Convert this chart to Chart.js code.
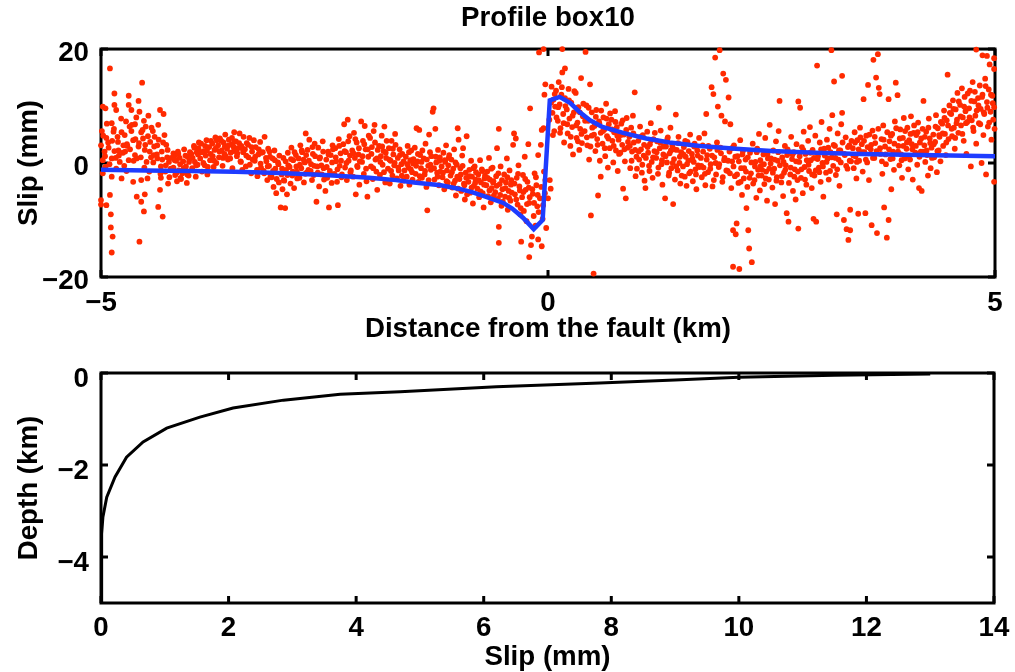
<!DOCTYPE html>
<html>
<head>
<meta charset="utf-8">
<title>Profile box10</title>
<script src="https://cdn.jsdelivr.net/npm/chart.js@4.4.0/dist/chart.umd.min.js"></script>
<style>
  html, body { margin: 0; padding: 0; background: #fff; overflow: hidden; }
  #wrap { position: relative; width: 1015px; height: 672px; overflow: hidden; }
  canvas { position: absolute; left: 0; }
  #profileChart { top: 0; }
  #depthChart { top: 340px; }
</style>
</head>
<body>
<div id="wrap">
  <canvas id="profileChart" width="1040" height="350"></canvas>
  <canvas id="depthChart" width="1040" height="332"></canvas>
</div>
<script>
// tick labels
const topXTicks = [-5, 0, 5];
const topYTicks = [-20, 0, 20];
const bottomXTicks = [0, 2, 4, 6, 8, 10, 12, 14];
const bottomYTicks = [-4, -2, 0];

// model curve (blue): distance from fault (km) / slip (mm)
const modelDist = [-5, -4.5, -4, -3.5, -3, -2.5, -2, -1.7, -1.5, -1.2, -1.0, -0.85, -0.7, -0.5, -0.4, -0.28, -0.16, -0.06,
  0.02, 0.13, 0.25, 0.35, 0.47, 0.6, 0.84, 1.1, 1.36, 1.7, 2.1, 2.5, 3.0, 3.5, 4.0, 4.5, 5.0];
const modelSlip = [-1.2, -1.3, -1.4, -1.55, -1.75, -2.1, -2.6, -3.0, -3.4, -3.9, -4.5, -5.1, -5.9, -7.0, -8.0, -9.6, -11.6, -10.0,
  11.0, 11.6, 10.5, 9.0, 7.5, 6.4, 5.3, 4.3, 3.6, 3.0, 2.5, 2.1, 1.8, 1.6, 1.45, 1.3, 1.2];

// slip distribution with depth (black)
const depthSlip = [0, 0.005, 0.015, 0.03, 0.09, 0.22, 0.4, 0.66, 1.03, 1.55, 2.07, 2.86, 3.75, 4.69, 6.2, 7.82, 9.0, 10.0, 11.5, 13.0];
const depthKm = [-5, -4.0, -3.5, -3.13, -2.7, -2.26, -1.83, -1.5, -1.2, -0.96, -0.76, -0.59, -0.46, -0.41, -0.3, -0.22, -0.15, -0.09, -0.05, -0.02];

// observed offsets (red), west of the fault [km, mm]
const obsWest = [
  [-4.90,16.6],[-4.54,14.1],[-4.85,12.2],[-4.69,11.8],[-4.58,10.9],[-4.98,9.9],[-4.95,9.6],[-4.85,10.2],[-4.83,9.3],
  [-4.69,10.2],[-4.66,9.3],[-4.57,9.0],[-4.47,8.3],[-4.34,9.3],[-4.30,8.6],[-4.88,7.0],[-4.72,7.3],[-4.68,6.4],[-4.52,7.4],
  [-4.50,6.4],[-4.36,6.7],[-4.99,5.6],[-4.86,5.5],[-4.77,5.4],[-4.66,5.6],[-4.55,5.4],[-4.42,5.6],[-4.29,4.9],[-4.92,3.6],
  [-4.81,3.7],[-4.75,3.1],[-4.64,4.0],[-4.58,2.9],[-4.45,3.7],[-4.37,3.1],[-4.27,3.2],[-5.00,3.1],[-4.96,2.0],[-4.85,2.1],
  [-4.73,2.0],[-4.62,1.4],[-4.51,2.3],[-4.41,1.4],[-4.32,2.0],[-4.19,1.7],[-4.98,0.5],[-4.88,0.8],[-4.79,0.2],[-4.69,0.5],
  [-4.60,0.8],[-4.49,0.2],[-4.37,0.8],[-4.24,0.2],[-4.98,-1.8],[-4.88,-2.4],[-4.77,-2.7],[-4.64,-3.3],[-4.55,-3.0],[-4.48,-2.7],
  [-4.33,-2.6],[-5.00,-6.5],[-4.90,-5.6],[-4.60,-5.9],[-4.55,-6.8],[-4.52,-8.5],[-4.36,-7.7],[-4.31,-9.4],[-4.34,-4.7],
  [-4.51,-5.5],[-4.94,-7.4],[-4.89,-9.0],[-4.89,-11.3],[-4.87,-12.9],[-4.57,-13.8],[-4.88,-15.7],[-5.00,-7.3],
  [-4.94,4.4],[-4.80,1.3],[-4.71,3.3],[-4.62,6.8],[-4.53,4.3],[-4.44,1.0],[-4.40,4.6],[-4.33,-0.6],[-4.28,-1.5],[-4.25,-3.6],
  [-4.22,-1.0],[-4.26,1.0],[-4.74,-0.5],[-4.83,-1.0],[-4.95,-0.7],[-4.46,-1.5],
  [-4.19,-0.8],[-4.18,1.2],[-4.17,-2.1],[-4.16,0.4],[-4.15,-3.2],[-4.14,2.0],[-4.13,-1.3],[-4.12,0.9],[-4.11,-2.6],
  [-4.09,-1.8],[-4.08,0.3],[-4.07,2.4],[-4.05,-0.6],[-4.04,-3.5],[-4.03,1.1],[-4.02,-2.2],[-4.01,0.7],
  [-3.99,1.6],[-3.98,-0.9],[-3.96,3.0],[-3.95,0.2],[-3.94,-2.4],[-3.93,1.9],[-3.92,-0.3],[-3.91,2.6],
  [-3.89,0.8],[-3.88,3.4],[-3.87,-1.5],[-3.85,2.1],[-3.84,-0.4],[-3.83,1.3],[-3.82,4.0],[-3.81,-2.0],
  [-3.79,2.8],[-3.78,0.5],[-3.77,3.9],[-3.75,1.2],[-3.74,-0.7],[-3.73,2.3],[-3.72,4.5],[-3.71,0.0],
  [-3.69,3.1],[-3.68,1.0],[-3.67,4.3],[-3.65,2.2],[-3.64,-0.5],[-3.63,3.6],[-3.62,1.6],[-3.61,5.0],
  [-3.59,2.5],[-3.58,0.6],[-3.57,4.1],[-3.55,1.8],[-3.54,3.3],[-3.53,-0.9],[-3.52,2.9],[-3.51,5.4],
  [-3.49,3.8],[-3.48,1.2],[-3.47,2.6],[-3.45,5.2],[-3.44,0.3],[-3.43,3.0],[-3.42,-1.2],[-3.41,1.9],
  [-3.39,2.4],[-3.38,-0.6],[-3.37,3.5],[-3.35,1.0],[-3.34,4.4],[-3.32,-1.8],[-3.31,2.0],[-3.29,4.0],
  [-3.28,0.4],[-3.27,2.8],[-3.25,-2.3],[-3.24,1.5],[-3.22,3.7],[-3.21,-0.8],
  [-3.19,1.9],[-3.18,-1.4],[-3.17,4.6],[-3.15,0.3],[-3.14,-3.0],[-3.13,2.5],[-3.12,-0.5],[-3.11,1.1],
  [-3.09,-2.5],[-3.08,0.8],[-3.07,-4.2],[-3.06,2.2],[-3.05,-1.0],[-3.04,-5.3],[-3.02,0.1],[-3.01,-3.4],
  [-2.99,-7.8],[-2.98,-2.0],[-2.97,-4.6],[-2.96,0.9],[-2.95,-3.1],[-2.94,-7.9],[-2.93,-1.2],[-2.92,-5.5],[-2.91,1.8],
  [-2.89,-0.7],[-2.88,-3.6],[-2.87,2.7],[-2.86,-2.2],[-2.85,0.5],[-2.84,-4.4],[-2.82,1.4],[-2.81,-1.5],
  [-2.79,0.8],[-2.78,-2.6],[-2.77,3.1],[-2.76,-0.9],[-2.75,1.9],[-2.73,-3.4],[-2.72,0.1],[-2.71,5.2],[-2.70,-1.7],
  [-2.69,2.3],[-2.68,-1.2],[-2.67,4.1],[-2.65,-0.2],[-2.64,-3.0],[-2.63,1.6],[-2.62,-2.1],[-2.61,3.4],
  [-2.59,-6.8],[-2.58,-0.6],[-2.57,2.7],[-2.56,-4.1],[-2.55,1.0],[-2.53,-2.0],[-2.52,3.8],[-2.51,-0.9],
  [-2.49,-4.9],[-2.48,0.6],[-2.47,-2.6],[-2.46,2.0],[-2.45,-7.8],[-2.44,-1.4],[-2.43,1.4],[-2.42,-3.5],[-2.41,3.1],
  [-2.39,-1.9],[-2.38,2.6],[-2.37,0.3],[-2.36,-3.3],[-2.35,-7.4],[-2.34,4.2],[-2.33,-0.5],[-2.32,1.7],[-2.31,-2.5],
  [-2.29,3.3],[-2.28,6.8],[-2.27,-0.8],[-2.26,1.9],[-2.25,-3.0],[-2.24,7.6],[-2.23,0.4],[-2.22,4.7],[-2.21,-1.6],
  [-2.19,2.2],[-2.18,-2.4],[-2.17,5.3],[-2.16,0.9],[-2.15,-5.5],[-2.14,3.6],[-2.13,-0.7],[-2.12,1.5],[-2.11,-3.8],
  [-2.09,7.3],[-2.08,0.2],[-2.07,3.9],[-2.06,-1.9],[-2.05,6.5],[-2.04,2.4],[-2.03,-3.2],[-2.02,-5.9],[-2.01,1.1],
  [-1.99,4.4],[-1.98,-0.6],[-1.97,2.8],[-1.96,-2.8],[-1.95,5.6],[-1.94,6.7],[-1.93,0.6],[-1.92,-1.5],[-1.91,-4.7],
  [-1.89,3.0],[-1.88,-2.1],[-1.87,1.2],[-1.86,4.8],[-1.85,-0.3],[-1.84,2.1],[-1.83,6.4],[-1.82,-3.4],[-1.81,0.9],
  [-1.79,-1.0],[-1.78,2.6],[-1.77,-3.6],[-1.76,0.4],[-1.75,3.9],[-1.74,-2.2],[-1.73,1.5],[-1.72,-0.4],[-1.71,5.1],
  [-1.69,-2.7],[-1.68,0.9],[-1.67,-1.3],[-1.66,2.4],[-1.65,-4.0],[-1.64,-0.2],[-1.63,1.6],[-1.62,-3.1],
  [-1.59,1.1],[-1.58,-2.4],[-1.57,3.0],[-1.56,-0.8],[-1.55,-3.8],[-1.54,0.5],[-1.53,2.2],[-1.52,-1.6],[-1.51,-0.1],
  [-1.49,2.7],[-1.48,-1.9],[-1.47,6.1],[-1.46,0.3],[-1.45,-3.3],[-1.44,5.8],[-1.43,1.4],[-1.42,-0.9],[-1.41,-2.6],
  [-1.39,0.8],[-1.38,-2.0],[-1.37,3.4],[-1.36,-4.2],[-1.35,-8.3],[-1.34,-0.5],[-1.33,5.0],[-1.32,1.9],[-1.31,-1.2],
  [-1.29,9.0],[-1.28,9.6],[-1.27,-2.9],[-1.26,6.0],[-1.25,0.1],[-1.24,-1.7],[-1.23,2.3],[-1.22,-3.9],[-1.21,1.0],
  [-1.19,-0.6],[-1.18,-2.5],[-1.17,1.8],[-1.16,-4.6],[-1.15,0.2],[-1.14,3.1],[-1.13,-1.3],[-1.12,-3.4],[-1.11,0.9],
  [-1.09,-2.2],[-1.08,0.6],[-1.07,-4.3],[-1.06,-1.0],[-1.05,2.4],[-1.04,-3.1],[-1.03,-5.7],[-1.02,-0.3],[-1.01,6.1],[-1.00,4.1],
  [-0.99,-2.8],[-0.98,-0.9],[-0.97,-4.9],[-0.96,1.3],[-0.95,2.6],[-0.94,-3.6],[-0.93,-6.4],[-0.92,-1.7],[-0.91,4.7],
  [-0.89,-3.3],[-0.88,-1.2],[-0.87,-5.2],[-0.86,0.4],[-0.85,-2.4],[-0.84,-7.1],[-0.83,-4.0],[-0.82,-0.6],[-0.81,-2.9],
  [-0.79,-4.5],[-0.78,-2.0],[-0.77,-6.0],[-0.76,0.5],[-0.75,-3.4],[-0.74,-1.1],[-0.73,-5.3],[-0.72,-7.8],[-0.71,-2.7],
  [-0.69,-3.9],[-0.68,-1.5],[-0.67,-5.8],[-0.66,0.9],[-0.65,-2.9],[-0.64,-6.9],[-0.63,-4.4],[-0.62,-0.8],[-0.61,-3.2],
  [-0.59,-5.1],[-0.58,-2.3],[-0.57,2.6],[-0.56,-6.3],[-0.55,6.0],[-0.55,-11.2],[-0.55,-14.0],[-0.54,-3.7],[-0.53,-0.6],[-0.52,-7.5],[-0.51,-4.6],
  [-0.49,-2.0],[-0.48,-5.9],[-0.47,-3.4],[-0.46,0.8],[-0.45,-8.2],[-0.44,-4.9],[-0.43,-1.3],[-0.42,-6.6],[-0.41,-3.0],
  [-0.39,3.2],[-0.38,5.2],[-0.37,-5.5],[-0.36,4.3],[-0.35,-2.6],[-0.34,-7.3],[-0.33,-0.4],[-0.32,-4.1],[-0.31,-9.0],[-0.30,-13.8],
  [-0.29,-6.0],[-0.28,-2.1],[-0.27,-8.4],[-0.26,1.1],[-0.25,-4.7],[-0.24,-10.2],[-0.23,-3.3],[-0.22,3.3],[-0.21,-16.5],[-0.20,9.6],[-0.21,-7.0],
  [-0.19,-14.4],[-0.18,-12.9],[-0.17,-5.4],[-0.16,-9.3],[-0.15,-1.8],[-0.14,-11.0],[-0.13,-3.9],[-0.12,-7.6],[-0.11,-13.4],[-0.10,19.4],[-0.11,1.4],
  [-0.09,-6.2],[-0.08,3.2],[-0.07,5.8],[-0.07,-14.6],[-0.06,-9.8],[-0.05,6.1],[-0.05,20.0],[-0.04,12.0],[-0.03,13.8],[-0.03,-3.0],[-0.02,-11.4]
];

// observed offsets (red), east of the fault [km, mm]
const obsEast = [
  [0.00,-6.2],[0.02,-3.0],[0.03,-4.5],[0.04,13.4],[0.05,8.8],[0.06,11.1],[0.07,5.6],[0.08,9.9],[0.09,12.7],
  [0.11,7.4],[0.12,14.2],[0.13,10.3],[0.14,6.1],[0.15,12.0],[0.16,20.0],[0.16,15.9],[0.17,8.6],[0.18,3.6],[0.19,16.6],[0.19,11.4],
  [0.21,9.4],[0.22,5.2],[0.23,13.0],[0.24,7.8],[0.25,3.0],[0.26,10.6],[0.27,6.3],[0.28,1.5],[0.29,8.9],
  [0.31,12.3],[0.32,4.4],[0.33,7.1],[0.34,9.8],[0.35,2.3],[0.36,6.0],[0.37,14.9],[0.38,3.5],[0.39,8.2],
  [0.41,5.6],[0.42,19.5],[0.43,10.1],[0.44,3.1],[0.45,7.4],[0.46,0.6],[0.47,13.8],[0.48,-9.2],[0.49,4.8],[0.49,8.9],
  [0.51,-19.4],[0.52,6.5],[0.53,2.1],[0.54,9.3],[0.55,4.2],[0.56,-5.7],[0.57,7.3],[0.58,0.4],[0.59,-2.4],[0.59,5.3],
  [0.61,3.4],[0.62,8.0],[0.63,5.9],[0.64,1.2],[0.65,10.4],[0.66,4.7],[0.67,-0.8],[0.68,6.8],[0.69,2.6],
  [0.71,7.6],[0.72,3.9],[0.73,0.1],[0.74,5.4],[0.75,9.1],[0.76,2.2],[0.77,6.3],[0.78,-1.4],[0.79,4.1],
  [0.81,1.8],[0.82,6.9],[0.83,3.2],[0.84,-4.5],[0.85,5.0],[0.86,0.3],[0.87,-6.2],[0.88,7.9],[0.89,2.7],
  [0.91,4.6],[0.92,-0.9],[0.93,6.2],[0.94,2.0],[0.95,8.3],[0.96,3.6],[0.97,12.4],[0.98,-2.3],[0.99,1.1],
  [1.01,3.9],[1.02,0.6],[1.03,6.4],[1.04,2.4],[1.05,-1.7],[1.06,4.9],[1.07,1.3],[1.08,-3.1],[1.09,-4.4],
  [1.11,5.5],[1.12,1.8],[1.13,-0.5],[1.14,3.3],[1.15,7.0],[1.16,0.2],[1.17,-2.6],[1.18,4.2],[1.19,2.1],
  [1.21,0.9],[1.22,3.8],[1.23,-1.9],[1.24,9.7],[1.25,2.6],[1.26,5.7],[1.27,-0.2],[1.28,-3.8],[1.29,1.5],
  [1.31,-6.2],[1.32,2.9],[1.33,0.1],[1.34,4.5],[1.35,-2.2],[1.36,1.7],[1.37,6.2],[1.38,-0.9],[1.39,3.0],
  [1.40,-7.2],[1.41,0.7],[1.42,-2.9],[1.43,8.5],[1.44,2.3],[1.45,-1.3],[1.46,4.6],[1.47,0.0],[1.48,-3.6],[1.49,1.9],
  [1.51,-0.6],[1.52,2.8],[1.53,-2.4],[1.54,1.1],[1.55,-4.0],[1.56,3.7],[1.57,0.4],[1.58,-1.8],[1.59,5.0],
  [1.61,1.6],[1.62,-3.2],[1.63,0.2],[1.64,3.4],[1.65,-1.1],[1.66,-4.6],[1.67,2.2],[1.68,-0.4],[1.69,4.4],
  [1.71,0.9],[1.72,-2.5],[1.73,3.1],[1.74,-0.8],[1.75,5.2],[1.76,-3.9],[1.77,8.6],[1.78,1.4],[1.79,-1.6],
  [1.81,2.5],[1.82,-0.2],[1.83,13.3],[1.84,-4.1],[1.85,12.1],[1.86,1.0],[1.87,18.5],[1.88,-2.0],[1.89,3.6],
  [1.90,9.9],[1.91,-0.7],[1.92,19.8],[1.93,2.7],[1.94,8.3],[1.95,-3.3],[1.96,15.7],[1.97,0.5],[1.98,7.3],[1.99,14.6],
  [2.01,-1.4],[2.02,11.5],[2.03,2.0],[2.04,6.8],[2.05,-4.4],[2.06,0.3],[2.07,-11.8],[2.07,-18.2],[2.08,3.1],[2.09,-2.3],
  [2.10,-12.5],[2.11,-10.6],[2.12,1.2],[2.13,-3.5],[2.14,-18.6],[2.15,4.0],[2.16,-0.9],[2.17,-5.6],[2.18,2.1],[2.19,-2.7],
  [2.21,0.6],[2.22,-7.9],[2.23,-4.2],[2.24,-11.8],[2.25,-15.0],[2.26,1.8],[2.27,-1.8],[2.28,-17.4],[2.29,3.4],
  [2.31,-3.0],[2.32,0.2],[2.33,-6.1],[2.34,2.5],[2.35,-1.2],[2.36,5.1],[2.37,-4.8],[2.38,-0.5],[2.39,-2.2],
  [2.41,1.5],[2.42,-3.7],[2.43,4.4],[2.44,-1.5],[2.45,-6.6],[2.46,0.8],[2.47,-2.9],[2.48,6.7],[2.49,-0.1],
  [2.51,-4.3],[2.52,2.2],[2.53,-1.0],[2.54,-7.2],[2.55,3.8],[2.56,-2.5],[2.57,0.4],[2.58,5.6],[2.59,10.9],
  [2.61,-3.4],[2.62,1.0],[2.63,-5.8],[2.64,-1.7],[2.65,3.0],[2.66,-0.4],[2.67,-8.8],[2.68,2.4],[2.69,-10.3],
  [2.71,-2.0],[2.72,4.6],[2.73,0.7],[2.74,-4.9],[2.75,1.9],[2.76,-1.1],[2.77,-6.4],[2.78,3.3],[2.79,-3.0],[2.80,10.8],
  [2.80,-11.5],[2.81,0.2],[2.82,9.7],[2.83,-2.6],[2.84,2.8],[2.85,-5.3],[2.86,5.5],[2.87,-0.7],[2.88,1.6],[2.89,-3.8],
  [2.91,3.9],[2.92,-1.4],[2.93,6.3],[2.94,0.5],[2.95,-4.4],[2.96,2.3],[2.97,-9.8],[2.98,-2.2],[2.99,4.8],
  [3.00,-10.3],[3.01,17.1],[3.02,1.2],[3.03,-0.8],[3.04,3.6],[3.05,-3.3],[3.06,7.2],[3.07,0.0],[3.08,-5.9],[3.09,2.5],
  [3.11,-1.7],[3.12,4.1],[3.13,0.8],[3.14,-2.9],[3.15,6.0],[3.16,1.9],[3.17,19.8],[3.18,8.4],[3.19,-0.5],[3.20,14.3],
  [3.21,3.0],[3.22,-2.1],[3.23,-9.0],[3.24,5.2],[3.25,0.6],[3.26,-4.0],[3.27,2.2],[3.28,6.8],[3.29,15.3],[3.29,8.8],
  [3.31,-10.0],[3.32,1.4],[3.33,4.5],[3.34,-11.6],[3.35,-1.0],[3.36,-13.5],[3.37,3.1],[3.38,-11.8],[3.38,-8.2],[3.39,0.3],
  [3.41,2.6],[3.42,-0.9],[3.43,5.4],[3.44,1.2],[3.45,-2.7],[3.46,4.0],[3.47,-8.9],[3.48,0.4],[3.49,6.2],
  [3.51,3.3],[3.52,-1.5],[3.53,11.2],[3.54,1.9],[3.55,-8.8],[3.56,4.8],[3.57,0.1],[3.58,13.7],[3.59,-3.0],
  [3.61,2.4],[3.62,-10.9],[3.63,5.7],[3.64,18.1],[3.65,0.9],[3.66,3.5],[3.67,15.0],[3.68,-12.3],[3.69,19.1],[3.70,13.2],
  [3.71,12.1],[3.72,1.6],[3.73,4.2],[3.74,-1.9],[3.75,6.6],[3.76,-7.8],[3.77,2.9],[3.78,-0.2],[3.79,-13.1],
  [3.81,11.2],[3.81,-10.0],[3.82,3.8],[3.83,0.7],[3.84,-4.6],[3.85,5.1],[3.86,2.0],[3.87,-1.2],[3.88,7.3],[3.89,14.1],
  [3.91,11.9],[3.92,3.0],[3.93,-0.4],[3.94,5.9],[3.95,1.5],[3.96,-2.6],[3.97,4.4],[3.98,7.9],[3.99,0.8],
  [4.01,2.5],[4.02,6.2],[4.03,-1.1],[4.04,4.0],[4.05,0.6],[4.06,8.2],[4.07,3.3],[4.08,-2.9],[4.09,5.3],
  [4.11,1.8],[4.12,4.9],[4.13,-0.3],[4.14,7.1],[4.15,-4.4],[4.16,3.6],[4.17,2.0],[4.18,-4.9],[4.19,6.0],[4.20,10.9],
  [4.21,3.1],[4.22,0.2],[4.23,5.5],[4.24,1.4],[4.25,-2.2],[4.26,7.8],[4.27,4.3],[4.28,-0.9],[4.29,2.7],
  [4.31,5.0],[4.32,1.0],[4.33,3.7],[4.34,8.4],[4.35,-1.6],[4.36,6.1],[4.37,2.2],[4.38,4.6],[4.39,0.3],
  [4.41,6.9],[4.42,3.0],[4.43,9.2],[4.44,5.1],[4.45,1.4],[4.46,7.5],[4.47,15.5],[4.48,4.2],[4.49,10.1],
  [4.51,8.6],[4.52,4.7],[4.53,11.0],[4.54,6.2],[4.55,2.5],[4.56,9.4],[4.57,7.0],[4.58,12.3],[4.59,5.3],
  [4.61,10.2],[4.62,6.6],[4.63,13.1],[4.64,8.0],[4.65,3.9],[4.66,11.6],[4.67,9.1],[4.68,1.6],[4.69,7.2],
  [4.71,9.6],[4.72,12.7],[4.73,-0.6],[4.74,7.5],[4.75,14.2],[4.76,5.6],[4.77,10.8],[4.78,8.3],[4.79,19.9],[4.79,3.4],
  [4.81,11.4],[4.82,7.0],[4.83,13.6],[4.84,9.5],[4.85,0.0],[4.86,18.9],[4.86,12.0],[4.87,4.9],[4.88,8.6],[4.89,14.8],
  [4.90,-2.0],[4.91,18.8],[4.91,10.7],[4.92,6.4],[4.93,12.9],[4.94,17.3],[4.95,9.0],[4.96,4.1],[4.97,11.8],[4.98,7.6],
  [4.99,18.4],[4.99,16.5],[4.99,-3.3],[4.99,9.8]
];

// extra readings from the densest part of the cloud [km, mm]
const obsCore = [
  [-4.975,4.8],[-4.955,1.2],[-4.935,6.9],[-4.915,2.7],[-4.905,-0.2],[-4.875,3.9],[-4.855,6.0],[-4.835,0.9],[-4.815,4.6],[-4.805,2.2],
  [-4.775,7.8],[-4.755,1.8],[-4.735,4.9],[-4.715,-1.4],[-4.705,3.0],[-4.675,2.4],[-4.655,6.7],[-4.635,0.4],[-4.615,4.2],[-4.605,8.0],
  [-4.575,3.5],[-4.555,1.0],[-4.535,5.8],[-4.515,-0.8],[-4.505,3.2],[-4.475,4.7],[-4.455,2.0],[-4.435,6.2],[-4.415,0.1],[-4.405,2.9],
  [-4.375,1.5],[-4.355,4.1],[-4.335,-1.9],[-4.315,0.6],[-4.305,3.6],[-4.275,-0.4],[-4.255,2.3],[-4.235,-2.5],[-4.215,0.9],[-4.205,-1.2],
  [-4.175,0.5],[-4.155,-1.7],[-4.135,1.6],[-4.115,-0.2],[-4.105,-2.8],[-4.075,-0.9],[-4.055,1.3],[-4.035,-2.0],[-4.015,0.2],[-4.005,1.9],
  [-3.975,0.9],[-3.955,2.7],[-3.935,-0.4],[-3.915,1.5],[-3.905,3.6],[-3.875,1.9],[-3.855,0.0],[-3.835,3.0],[-3.815,2.2],[-3.805,-0.7],
  [-3.775,1.6],[-3.755,3.4],[-3.735,0.4],[-3.715,2.6],[-3.705,4.0],[-3.675,2.0],[-3.655,3.9],[-3.635,0.9],[-3.615,2.9],[-3.605,1.2],
  [-3.575,3.1],[-3.555,0.8],[-3.535,4.4],[-3.515,2.1],[-3.505,3.8],[-3.475,1.7],[-3.455,3.5],[-3.435,0.2],[-3.415,2.5],[-3.405,4.6],
  [-3.375,1.3],[-3.355,3.2],[-3.335,-0.3],[-3.315,2.8],[-3.305,0.6],[-3.275,1.1],[-3.255,-1.2],[-3.235,2.4],[-3.215,-0.1],[-3.205,1.8],
  [-3.175,-1.8],[-3.155,0.9],[-3.135,-0.6],[-3.115,2.0],[-3.105,-2.4],[-3.075,-1.4],[-3.055,0.5],[-3.035,-2.8],[-3.015,-0.2],[-3.005,1.3],
  [-2.975,-1.0],[-2.955,-3.0],[-2.935,0.3],[-2.915,-2.1],[-2.905,-0.4],[-2.875,0.7],[-2.855,-1.5],[-2.835,1.9],[-2.815,-0.6],[-2.805,-2.7],
  [-2.775,-0.3],[-2.755,2.2],[-2.735,0.6],[-2.715,-1.9],[-2.705,1.4],[-2.675,0.4],[-2.655,-1.4],[-2.635,2.8],[-2.615,-0.5],[-2.605,1.2],
  [-2.575,-1.7],[-2.555,0.8],[-2.535,-0.4],[-2.515,2.0],[-2.505,-2.9],[-2.475,-0.7],[-2.455,1.5],[-2.435,-1.9],[-2.415,0.1],[-2.405,2.4],
  [-2.375,1.0],[-2.355,-1.1],[-2.335,3.0],[-2.315,0.4],[-2.305,-2.0],[-2.275,2.1],[-2.255,0.0],[-2.235,3.8],[-2.215,1.3],[-2.205,-1.3],
  [-2.175,1.7],[-2.155,4.2],[-2.135,-0.5],[-2.115,2.6],[-2.105,0.3],[-2.075,1.2],[-2.055,3.3],[-2.035,-1.0],[-2.015,2.4],[-2.005,4.8],
  [-1.975,1.6],[-1.955,-0.9],[-1.935,3.6],[-1.915,0.8],[-1.905,2.3],[-1.875,0.2],[-1.855,2.9],[-1.835,-1.6],[-1.815,1.8],[-1.805,3.9],
  [-1.775,0.6],[-1.755,-1.4],[-1.735,2.5],[-1.715,0.0],[-1.705,3.2],[-1.675,-0.8],[-1.655,1.4],[-1.635,-2.2],[-1.615,0.3],[-1.605,-1.3],
  [-1.575,-0.2],[-1.555,1.9],[-1.535,-1.1],[-1.515,-2.9],[-1.505,0.7],[-1.475,-0.5],[-1.455,1.6],[-1.435,-2.3],[-1.415,0.2],[-1.405,2.2],
  [-1.375,-1.4],[-1.355,0.6],[-1.335,-3.0],[-1.315,-0.3],[-1.305,1.2],[-1.275,-0.9],[-1.255,1.1],[-1.235,-2.4],[-1.215,0.4],[-1.205,-1.5],
  [-1.175,-1.7],[-1.155,0.5],[-1.135,-3.2],[-1.115,-0.4],[-1.105,1.4],[-1.075,-1.6],[-1.055,-3.6],[-1.035,0.1],[-1.015,-2.4],[-1.005,-4.5],
  [-0.975,-2.0],[-0.955,-0.5],[-0.935,-3.9],[-0.915,-2.6],[-0.905,-5.5],[-0.875,-2.3],[-0.855,-4.3],[-0.835,-0.9],[-0.815,-3.5],[-0.805,-1.6],
  [-0.775,-3.0],[-0.755,-5.0],[-0.735,-1.4],[-0.715,-3.8],[-0.705,-2.2],[-0.675,-2.6],[-0.655,-4.8],[-0.635,-1.0],[-0.615,-3.4],[-0.605,-5.7],
  [-0.575,-4.0],[-0.555,-1.8],[-0.535,-5.6],[-0.515,-3.0],[-0.505,-6.8],[-0.475,-4.4],[-0.455,-2.5],[-0.435,-6.1],[-0.415,-3.8],[-0.405,-5.2],
  [-0.375,-3.6],[-0.355,-6.4],[-0.335,-1.9],[-0.315,-4.8],[-0.305,-7.9],[-0.275,-5.1],[-0.255,-2.8],[-0.235,-7.2],[-0.215,-4.3],[-0.205,-6.0],
  [-0.175,-4.6],[-0.155,-7.0],[-0.135,-2.5],[-0.115,-5.6],[-0.105,-8.6],[-0.075,-4.2],[-0.055,-7.4],[-0.045,-1.5],[-0.035,-5.3],
  [0.015,7.6],[0.035,10.6],[0.055,4.9],[0.075,12.1],[0.095,8.0],[0.115,9.8],[0.135,5.3],[0.155,13.3],[0.175,7.0],[0.195,10.0],
  [0.215,6.8],[0.235,11.0],[0.255,4.6],[0.275,8.3],[0.295,12.6],[0.315,6.6],[0.335,3.8],[0.355,8.9],[0.375,5.1],[0.395,10.4],
  [0.415,7.4],[0.435,4.5],[0.455,9.7],[0.475,2.9],[0.495,6.2],[0.515,5.0],[0.535,8.1],[0.555,3.2],[0.575,6.9],[0.595,9.2],
  [0.615,5.6],[0.635,2.6],[0.655,7.8],[0.675,4.3],[0.695,8.7],[0.715,5.9],[0.735,3.0],[0.755,7.2],[0.775,4.8],[0.795,1.6],
  [0.815,4.9],[0.835,7.5],[0.855,2.4],[0.875,5.8],[0.895,3.7],[0.915,3.0],[0.935,0.4],[0.955,5.2],[0.975,2.3],[0.995,-1.0],
  [1.015,2.0],[1.035,4.6],[1.055,-0.3],[1.075,3.2],[1.095,0.9],[1.115,2.8],[1.135,-1.4],[1.155,4.0],[1.175,1.0],[1.195,5.3],
  [1.215,1.9],[1.235,-0.8],[1.255,3.6],[1.275,0.5],[1.295,2.9],[1.315,1.2],[1.335,4.2],[1.355,-1.7],[1.375,2.2],[1.395,0.0],
  [1.415,2.4],[1.435,-0.6],[1.455,3.5],[1.475,1.1],[1.495,-2.2],[1.515,1.5],[1.535,3.9],[1.555,-0.2],[1.575,2.1],[1.595,-1.5],
  [1.615,0.8],[1.635,2.9],[1.655,-2.0],[1.675,1.3],[1.695,-0.7],[1.715,-0.5],[1.735,2.0],[1.755,-1.9],[1.775,0.6],[1.795,3.0],
  [1.815,-1.0],[1.835,1.3],[1.855,-3.0],[1.875,0.0],[1.895,2.3],[1.915,-0.2],[1.935,1.7],[1.955,-2.5],[1.975,0.9],[1.995,-1.3],
  [2.015,0.4],[2.035,-1.8],[2.055,2.6],[2.075,-0.6],[2.095,1.1],[2.115,-2.0],[2.135,0.3],[2.155,-3.3],[2.175,1.5],[2.195,-0.9],
  [2.215,-1.5],[2.235,1.0],[2.255,-2.6],[2.275,0.1],[2.295,-3.6],[2.315,-0.6],[2.335,1.9],[2.355,-2.2],[2.375,0.5],[2.395,-1.2],
  [2.415,-0.2],[2.435,-2.7],[2.455,1.6],[2.475,-1.0],[2.495,0.8],[2.515,-1.7],[2.535,0.6],[2.555,-3.1],[2.575,1.9],[2.595,-0.4],
  [2.615,-2.3],[2.635,0.2],[2.655,-1.2],[2.675,1.4],[2.695,-3.5],[2.715,-0.8],[2.735,1.5],[2.755,-2.4],[2.775,0.3],[2.795,-1.5],
  [2.815,1.2],[2.835,-1.1],[2.855,2.3],[2.875,-2.9],[2.895,0.5],[2.915,-0.3],[2.935,1.8],[2.955,-2.0],[2.975,0.9],[2.995,-1.3],
  [3.015,0.7],[3.035,-1.6],[3.055,2.4],[3.075,-0.6],[3.095,1.3],[3.115,0.2],[3.135,2.7],[3.155,-1.4],[3.175,1.0],[3.195,3.2],
  [3.215,0.9],[3.235,-1.1],[3.255,2.2],[3.275,0.1],[3.295,3.6],[3.315,1.6],[3.335,-0.5],[3.355,2.8],[3.375,0.4],[3.395,3.9],
  [3.415,1.3],[3.435,3.6],[3.455,0.2],[3.475,2.4],[3.495,4.5],[3.515,1.9],[3.535,3.9],[3.555,0.6],[3.575,2.8],[3.595,5.0],
  [3.615,3.2],[3.635,0.9],[3.655,4.6],[3.675,2.1],[3.695,6.0],[3.715,2.6],[3.735,0.3],[3.755,4.1],[3.775,1.5],[3.795,5.4],
  [3.815,2.4],[3.835,4.8],[3.855,0.8],[3.875,3.4],[3.895,6.1],[3.915,2.0],[3.935,4.3],[3.955,0.5],[3.975,3.0],[3.995,5.6],
  [4.015,3.6],[4.035,1.2],[4.055,5.1],[4.075,2.4],[4.095,6.6],[4.115,3.0],[4.135,5.4],[4.155,1.1],[4.175,4.3],[4.195,2.0],
  [4.215,4.6],[4.235,2.2],[4.255,6.2],[4.275,3.5],[4.295,0.9],[4.315,3.3],[4.335,6.4],[4.355,2.1],[4.375,4.9],[4.395,7.2],
  [4.415,5.2],[4.435,7.9],[4.455,3.6],[4.475,6.6],[4.495,8.8],[4.515,6.0],[4.535,9.5],[4.555,4.4],[4.575,7.6],[4.595,10.8],
  [4.615,8.2],[4.635,5.1],[4.655,9.9],[4.675,7.0],[4.695,12.2],[4.715,8.0],[4.735,10.9],[4.755,6.2],[4.775,12.5],[4.795,9.2],
  [4.815,10.1],[4.835,6.8],[4.855,11.6],[4.875,8.9],[4.895,13.5],[4.915,9.7],[4.935,7.1],[4.955,12.0],[4.975,10.5],[4.995,6.0]
];

const FONT = '"Liberation Sans", Arial, Helvetica, sans-serif';
const FS = 27.7;
Chart.defaults.font.family = FONT;
Chart.defaults.font.weight = 'bold';
Chart.defaults.font.size = FS;
Chart.defaults.color = '#000';

const fmt = v => (v < 0 ? '\u2212' + Math.abs(v) : String(v));

// MATLAB-like box with inward ticks on all four sides
const boxPlugin = {
  id: 'boxPlugin',
  beforeDatasetsDraw(chart) {
    const { ctx, chartArea: a, scales: { x, y } } = chart;
    const len = 7;
    ctx.save();
    ctx.strokeStyle = '#000';
    ctx.lineWidth = 3;
    ctx.beginPath();
    x.ticks.forEach(t => {
      const px = x.getPixelForValue(t.value);
      ctx.moveTo(px, a.bottom); ctx.lineTo(px, a.bottom - len);
      ctx.moveTo(px, a.top); ctx.lineTo(px, a.top + len);
    });
    y.ticks.forEach(t => {
      const py = y.getPixelForValue(t.value);
      ctx.moveTo(a.left, py); ctx.lineTo(a.left + len, py);
      ctx.moveTo(a.right, py); ctx.lineTo(a.right - len, py);
    });
    ctx.stroke();
    ctx.strokeRect(a.left, a.top, a.right - a.left, a.bottom - a.top);
    ctx.restore();
  }
};

function axis(min, max, tickVals, title, tickOpts, titleOpts, extra) {
  return Object.assign({
    type: 'linear',
    min: min,
    max: max,
    afterBuildTicks: s => { s.ticks = tickVals.map(v => ({ value: v })); },
    grid: { display: false, drawTicks: false },
    border: { display: false },
    ticks: Object.assign({ callback: v => fmt(v), padding: 12, maxRotation: 0, autoSkip: false }, tickOpts),
    title: Object.assign({ display: true, text: title, font: { size: FS, weight: 'bold' } }, titleOpts)
  }, extra);
}

const obs = obsWest.concat(obsEast, obsCore).map(p => ({ x: p[0], y: p[1] }));
const model = modelDist.map((d, i) => ({ x: d, y: modelSlip[i] }));

new Chart(document.getElementById('profileChart'), {
  type: 'scatter',
  data: {
    datasets: [
      {
        label: 'Model',
        data: model,
        showLine: true,
        borderColor: '#1e3cff',
        borderWidth: 4.5,
        pointRadius: 0,
        tension: 0,
        clip: false,
        order: 0
      },
      {
        label: 'Observed',
        data: obs,
        pointRadius: 2.9,
        pointBorderWidth: 0,
        pointBackgroundColor: '#ff2a00',
        showLine: false,
        clip: false,
        order: 1
      }
    ]
  },
  options: {
    responsive: false,
    animation: false,
    events: [],
    layout: { padding: { left: 0, right: 45, top: 0, bottom: 0 } },
    plugins: {
      legend: { display: false },
      tooltip: { enabled: false },
      title: {
        display: true,
        text: 'Profile box10',
        fullSize: false,
        font: { size: FS, weight: 'bold' },
        padding: { top: 2, bottom: 13.8 }
      }
    },
    scales: {
      x: axis(-5, 5, topXTicks, 'Distance from the fault (km)',
        { padding: 10 }, { padding: { top: 4, bottom: 4 } },
        { position: 'bottom', afterFit: s => { s.height = 73; } }),
      y: axis(-20, 20, topYTicks, 'Slip (mm)',
        { padding: 12, labelOffset: 4 }, { padding: { top: 13, bottom: 4 } },
        { position: 'left', afterFit: s => { s.width = 101; } })
    }
  },
  plugins: [boxPlugin]
});

new Chart(document.getElementById('depthChart'), {
  type: 'scatter',
  data: {
    datasets: [{
      label: 'Slip at depth',
      data: depthSlip.map((s, i) => ({ x: s, y: depthKm[i] })),
      showLine: true,
      borderColor: '#000',
      borderWidth: 3,
      pointRadius: 0,
      tension: 0
    }]
  },
  options: {
    responsive: false,
    animation: false,
    events: [],
    layout: { padding: { left: 0, right: 46, top: 33, bottom: 0 } },
    plugins: {
      legend: { display: false },
      tooltip: { enabled: false }
    },
    scales: {
      x: axis(0, 14, bottomXTicks, 'Slip (mm)',
        { padding: 9 }, { font: { size: FS, weight: 'bold', lineHeight: 1 }, padding: { top: 4, bottom: 1 } },
        { position: 'bottom', afterFit: s => { s.height = 69; } }),
      y: axis(-5, 0, bottomYTicks, 'Depth (km)',
        { padding: 12, labelOffset: 6 }, { padding: { top: 13, bottom: 4 } },
        { position: 'left', afterFit: s => { s.width = 101; } })
    }
  },
  plugins: [boxPlugin]
});
</script>
</body>
</html>
